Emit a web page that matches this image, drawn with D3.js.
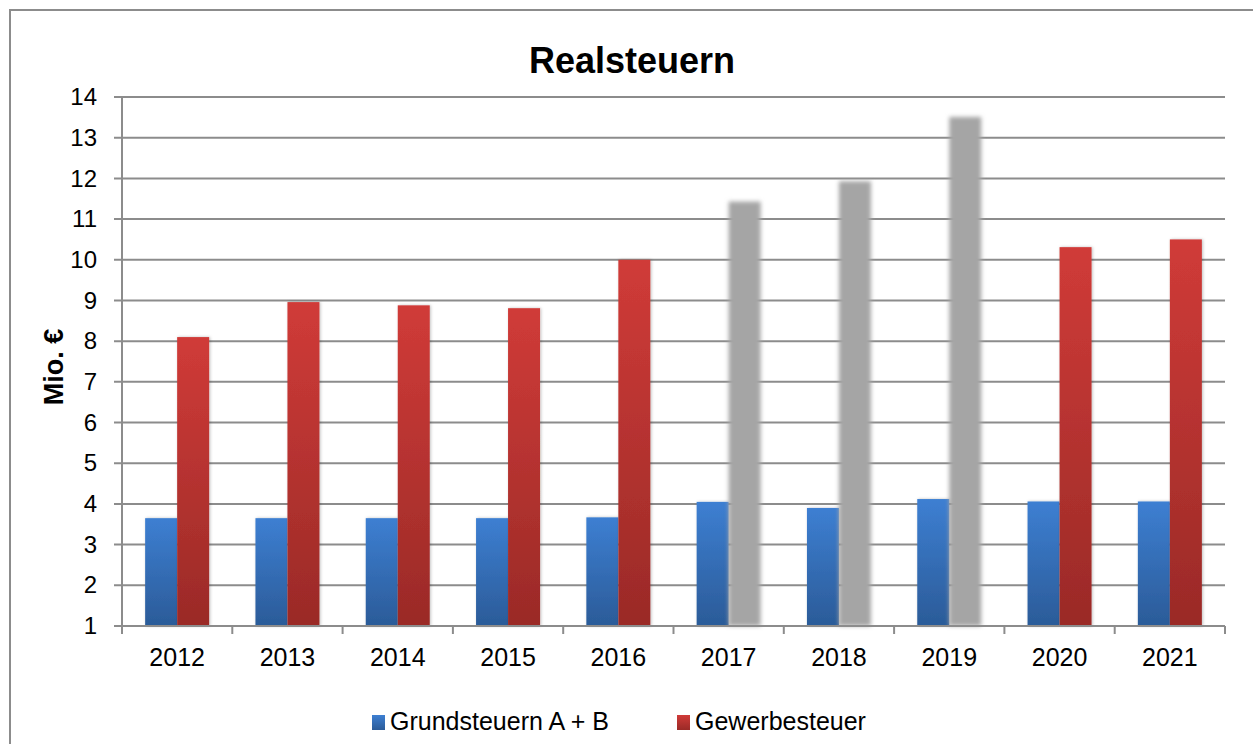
<!DOCTYPE html>
<html>
<head>
<meta charset="utf-8">
<script src="https://cdn.jsdelivr.net/npm/d3@7"></script>
<style>
  body { margin: 0; background: #fff; }
  text { font-family: "Liberation Sans", Arial, sans-serif; fill: #000; }
</style>
</head>
<body>
<svg id="chart" width="1253" height="744"></svg>
<script>
// values
var years = ["2012", "2013", "2014", "2015", "2016", "2017", "2018", "2019", "2020", "2021"];
var grundsteuer = [3.65, 3.65, 3.65, 3.65, 3.67, 4.05, 3.9, 4.12, 4.06, 4.06];
var gewerbesteuer = [8.1, 8.96, 8.88, 8.81, 10.0, 11.43, 11.93, 13.51, 10.31, 10.5];
var greyedYears = ["2017", "2018", "2019"];   // shown blurred in the original
var yTicks = [1, 2, 3, 4, 5, 6, 7, 8, 9, 10, 11, 12, 13, 14];

var svg = d3.select("#chart");

var margin = { left: 122, right: 28, top: 97, bottom: 118 },
    width = 1253 - margin.left - margin.right,
    height = 744 - margin.top - margin.bottom;

var defs = svg.append("defs");

function grad(id, top, bottom) {
  var g = defs.append("linearGradient").attr("id", id)
    .attr("x1", 0).attr("y1", 0).attr("x2", 0).attr("y2", 1);
  g.append("stop").attr("offset", "0%").attr("stop-color", top);
  g.append("stop").attr("offset", "100%").attr("stop-color", bottom);
}
grad("blueGrad", "#3d7fd2", "#2b5b98");
grad("redGrad", "#d03b38", "#9a2a27");

defs.append("filter").attr("id", "blur")
  .attr("x", "-30%").attr("y", "-10%").attr("width", "160%").attr("height", "120%")
  .append("feGaussianBlur").attr("stdDeviation", 2.2);

var shadow = defs.append("filter").attr("id", "shadow")
  .attr("x", "-20%").attr("y", "-10%").attr("width", "140%").attr("height", "120%");
shadow.append("feDropShadow").attr("dx", 1).attr("dy", 0).attr("stdDeviation", 1.5)
  .attr("flood-color", "#000").attr("flood-opacity", 0.25);

// outer frame
svg.append("rect")
  .attr("x", 10).attr("y", 10).attr("width", 1260).attr("height", 760)
  .attr("fill", "none").attr("stroke", "#8c8c8c").attr("stroke-width", 2);

var g = svg.append("g").attr("transform", "translate(" + margin.left + "," + margin.top + ")");

var x = d3.scaleBand().domain(years).range([0, width]);
var y = d3.scaleLinear().domain([1, 14]).range([height, 0]);

// gridlines
g.append("g").selectAll("line").data(yTicks).enter().append("line")
  .attr("x1", -8).attr("x2", width)
  .attr("y1", function(d) { return y(d); })
  .attr("y2", function(d) { return y(d); })
  .attr("stroke", "#8c8c8c").attr("stroke-width", 2);

// y axis labels
var yAxis = g.append("g")
  .call(d3.axisLeft(y).tickValues(yTicks).tickSize(0).tickPadding(25));
yAxis.select(".domain").remove();
yAxis.selectAll("text").attr("font-size", 24).attr("font-family", "Liberation Sans, Arial, sans-serif").attr("fill", "#000");

g.append("line").attr("x1", 0).attr("x2", 0).attr("y1", 0).attr("y2", height)
  .attr("stroke", "#8c8c8c").attr("stroke-width", 2);

// bars
var bw = 32;
var groups = g.selectAll(".year").data(years).enter().append("g")
  .attr("transform", function(d) { return "translate(" + (x(d) + x.bandwidth() / 2) + ",0)"; });

groups.append("rect")
  .attr("x", -bw)
  .attr("width", bw)
  .attr("y", function(d, i) { return y(grundsteuer[i]); })
  .attr("height", function(d, i) { return height - y(grundsteuer[i]); })
  .attr("fill", "url(#blueGrad)")
  .attr("filter", "url(#shadow)");

groups.append("rect")
  .attr("x", 0)
  .attr("width", bw)
  .attr("y", function(d, i) { return y(gewerbesteuer[i]); })
  .attr("height", function(d, i) { return height - y(gewerbesteuer[i]); })
  .attr("fill", function(d) { return greyedYears.indexOf(d) >= 0 ? "#a5a5a5" : "url(#redGrad)"; })
  .attr("filter", function(d) { return greyedYears.indexOf(d) >= 0 ? "url(#blur)" : "url(#shadow)"; });

// x axis
var xAxis = g.append("g").attr("transform", "translate(0," + height + ")")
  .call(d3.axisBottom(x).tickSize(0).tickPadding(22));
xAxis.select(".domain").remove();
xAxis.selectAll("text").attr("font-size", 25).attr("font-family", "Liberation Sans, Arial, sans-serif").attr("fill", "#000");

g.append("line").attr("x1", 0).attr("x2", width).attr("y1", height).attr("y2", height)
  .attr("stroke", "#8c8c8c").attr("stroke-width", 2);
g.append("g").selectAll("line").data(years.concat(["end"])).enter().append("line")
  .attr("x1", function(d, i) { return i * x.bandwidth(); })
  .attr("x2", function(d, i) { return i * x.bandwidth(); })
  .attr("y1", height).attr("y2", height + 8)
  .attr("stroke", "#8c8c8c").attr("stroke-width", 2);

// title
svg.append("text").attr("x", 632).attr("y", 73).attr("text-anchor", "middle")
  .attr("font-size", 36).attr("font-weight", "bold").text("Realsteuern");

// y label
svg.append("text")
  .attr("transform", "translate(63,367) rotate(-90)")
  .attr("text-anchor", "middle").attr("font-size", 27).attr("font-weight", "bold")
  .text("Mio. €");

// legend
var legend = [
  { name: "Grundsteuern A + B", fill: "url(#blueGrad)", x: 372 },
  { name: "Gewerbesteuer", fill: "url(#redGrad)", x: 677 }
];
var lg = svg.selectAll(".legend").data(legend).enter().append("g")
  .attr("transform", function(d) { return "translate(" + d.x + ",715)"; });
lg.append("rect").attr("width", 13).attr("height", 15).attr("fill", function(d) { return d.fill; });
lg.append("text").attr("x", 18).attr("y", 15).attr("font-size", 25).text(function(d) { return d.name; });
</script>
</body>
</html>
